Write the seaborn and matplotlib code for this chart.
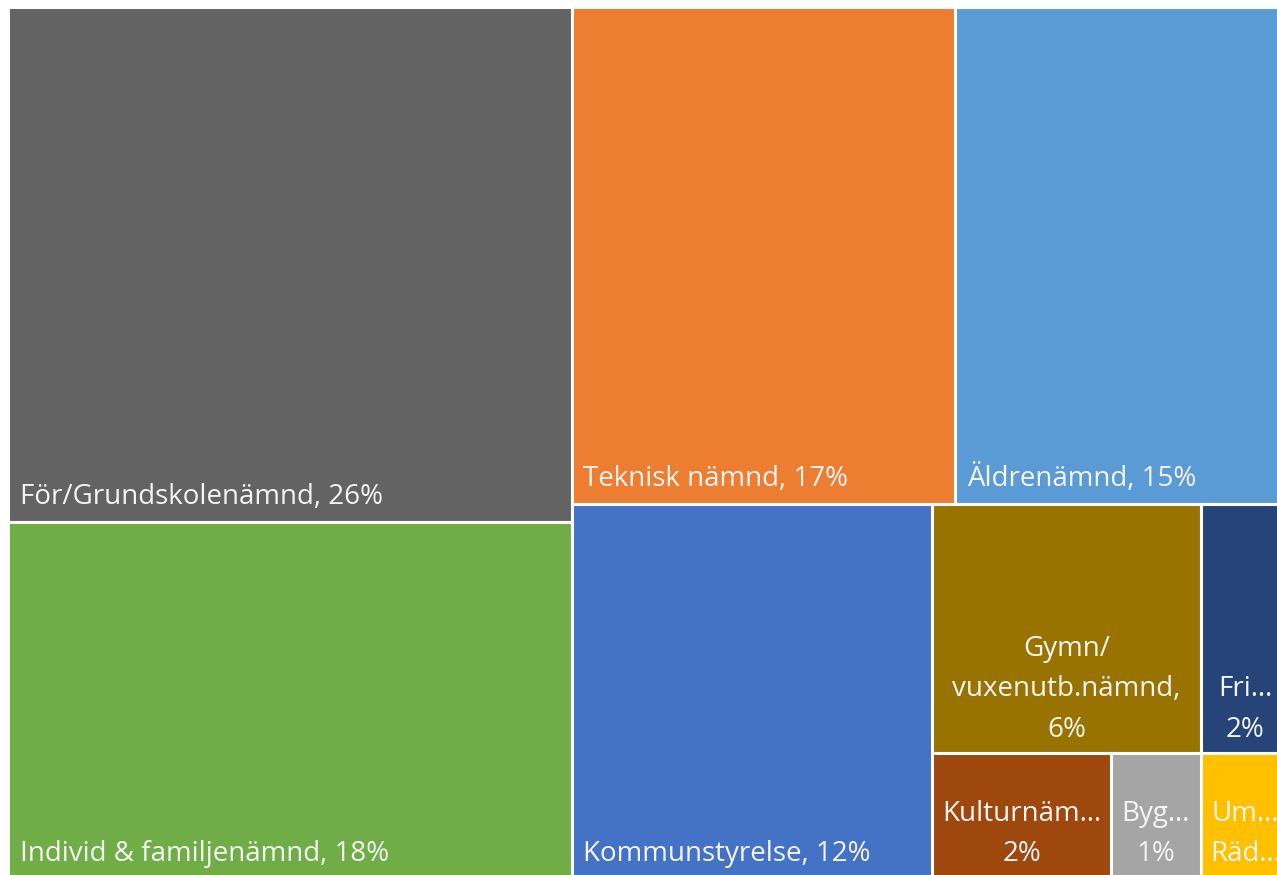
import matplotlib
matplotlib.use("Agg")
import matplotlib.pyplot as plt
from matplotlib.patches import Rectangle
import seaborn as sns

# Data (share of budget, %) - labels as shown in the chart
names = ["För/Grundskolenämnd", "Individ & familjenämnd", "Teknisk nämnd",
         "Äldrenämnd", "Kommunstyrelse", "Gymn/\nvuxenutb.nämnd",
         "Fri…", "Kulturnäm…", "Byg…", "Um…"]
values = [26, 18, 17.1, 14.9, 12.1, 6, 2, 2, 1, 1]
labels = ["För/Grundskolenämnd, 26%", "Individ & familjenämnd, 18%",
          "Teknisk nämnd, 17%", "Äldrenämnd, 15%", "Kommunstyrelse, 12%",
          "Gymn/\nvuxenutb.nämnd,\n6%", "Fri…\n2%", "Kulturnäm…\n2%",
          "Byg…\n1%", "Um…\nRäd…"]
colors = ["#636363", "#70AD47", "#ED7D31", "#5B9BD5", "#4472C4",
          "#997300", "#264478", "#9E480E", "#A5A5A5", "#FFC000"]

# how the squarified layout grouped the cells into strips
strips = [[0, 1], [2, 3], [4], [5, 6], [7, 8, 9]]

sns.set_style("white")
plt.rcParams["font.family"] = ["Open Sans", "DejaVu Sans"]


def treemap_layout(vals, strips, x, y, w, h):
    rects = {}
    remaining = float(sum(vals))
    for k, strip in enumerate(strips):
        s = sum(vals[i] for i in strip)
        last = k == len(strips) - 1
        if last:
            # final strip fills the rest, split along the long side
            if w >= h:
                cx = x
                for i in strip:
                    cw = w * vals[i] / s
                    rects[i] = (cx, y, cw, h)
                    cx += cw
            else:
                cy = y
                for i in strip:
                    ch = h * vals[i] / s
                    rects[i] = (x, cy, w, ch)
                    cy += ch
            break
        frac = s / remaining
        if w >= h:
            sw = w * frac
            cy = y
            for i in strip:
                ch = h * vals[i] / s
                rects[i] = (x, cy, sw, ch)
                cy += ch
            x += sw
            w -= sw
        else:
            sh = h * frac
            cx = x
            for i in strip:
                cw = w * vals[i] / s
                rects[i] = (cx, y, cw, sh)
                cx += cw
            y += sh
            h -= sh
        remaining -= s
    return rects


W, H = 1282, 871
fig = plt.figure(figsize=(12.77, 8.75), dpi=100)
ax = fig.add_axes([8 / 1277, -3 / 875, W / 1277, H / 875])
ax.set_xlim(0, W)
ax.set_ylim(H, 0)
ax.axis("off")

rects = treemap_layout(values, strips, 0, 0, W, H)
for i, (rx, ry, rw, rh) in rects.items():
    ax.add_patch(Rectangle((rx, ry), rw, rh, facecolor=colors[i],
                           edgecolor="white", linewidth=2.2))
    if rw > 300:
        ax.annotate(labels[i], xy=(rx, ry + rh), xytext=(8.5, 12.5),
                    textcoords="offset points", ha="left", va="baseline",
                    color="#F4F4F4", fontsize=20)
    else:
        ax.annotate(labels[i], xy=(rx + rw / 2, ry + rh), xytext=(0, 12),
                    textcoords="offset points", ha="center", va="baseline",
                    color="#F4F4F4", fontsize=20, linespacing=1.58,
                    multialignment="center")

fig.savefig("out.png", dpi=100)
